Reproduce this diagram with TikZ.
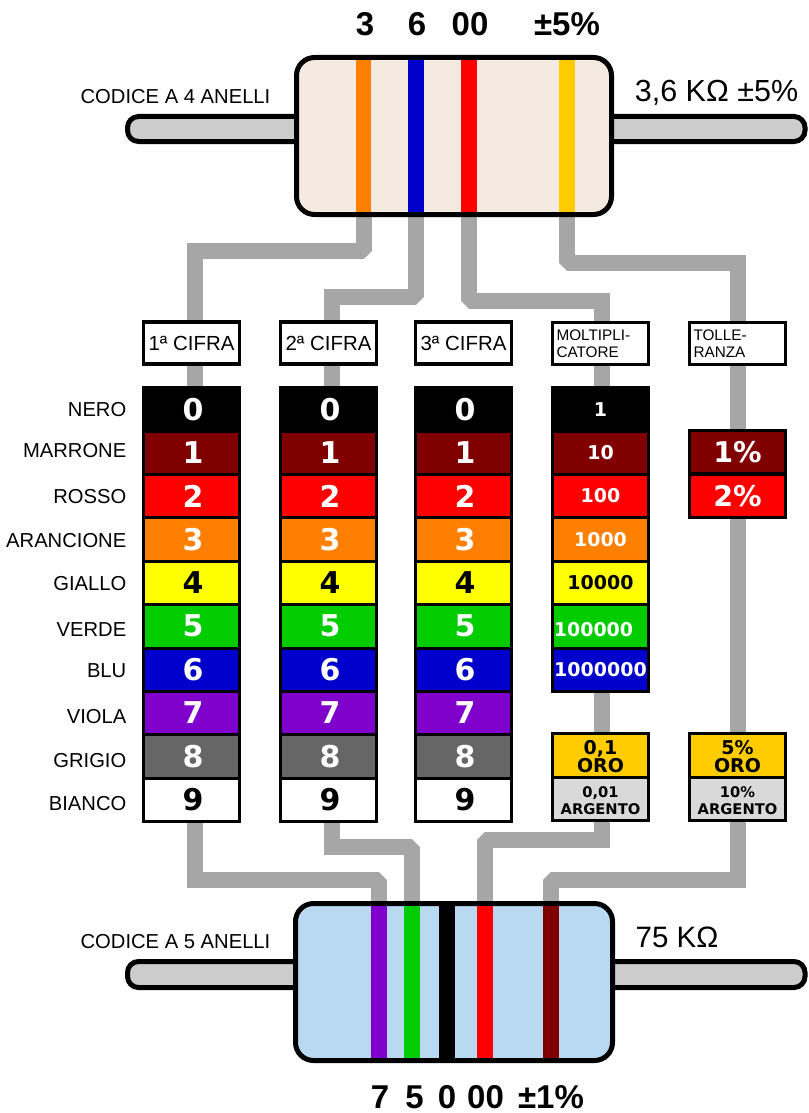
\documentclass[tikz,border=0pt]{standalone}
\usepackage{fontspec}
\setmainfont{Liberation Sans}
\newfontfamily\vbf{DejaVu Sans}
\usetikzlibrary{positioning}
\pgfdeclarelayer{wires}
\pgfsetlayers{wires,main}
\definecolor{wgrey}{HTML}{A6A6A6}
\definecolor{bodyA}{HTML}{F5EADF}
\definecolor{bodyB}{HTML}{B9D9F3}
\definecolor{leadc}{HTML}{CCCCCC}
\definecolor{rk0}{HTML}{000000}
\definecolor{rk1}{HTML}{800000}
\definecolor{rk2}{HTML}{FF0000}
\definecolor{rk3}{HTML}{FF8000}
\definecolor{rk4}{HTML}{FFFF00}
\definecolor{rk5}{HTML}{00CC00}
\definecolor{rk6}{HTML}{0000CC}
\definecolor{rk7}{HTML}{8000CC}
\definecolor{rk8}{HTML}{666666}
\definecolor{rk9}{HTML}{FFFFFF}
\definecolor{gold}{HTML}{FFCC00}
\definecolor{silv}{HTML}{D9D9D9}
\tikzset{
  wire/.style={draw=wgrey,line width=16pt},
  body/.style={draw=black,line width=5pt,rounded corners=18pt,minimum height=157pt,inner sep=0,outer sep=0},
  lead/.style={draw=black,fill=leadc,line width=5pt,rounded corners=11pt,inner sep=0,outer sep=0},
  band/.style={minimum height=152pt,inner sep=0,outer sep=0},
  cell/.style={draw=black,line width=3pt,minimum width=96pt,inner sep=0,outer sep=0,align=center},
  hdr/.style={draw=black,fill=white,line width=3.5pt,minimum width=96pt,minimum height=42pt,inner sep=0,outer sep=0},
  bigd/.style={font=\vbf\bfseries\fontsize{30}{30}\selectfont},
  multd/.style={font=\vbf\bfseries\fontsize{19}{19}\selectfont},
  rowlab/.style={anchor=east,font=\fontsize{20.2}{22}\selectfont,inner sep=0},
  bigtxt/.style={font=\bfseries\fontsize{33}{33}\selectfont,inner sep=0},
  captxt/.style={font=\fontsize{20.2}{22}\selectfont,inner sep=0},
  valtxt/.style={font=\fontsize{29.5}{30}\selectfont,inner sep=0},
}
\begin{document}
\begin{tikzpicture}[x=1pt,y=-1pt]
\useasboundingbox (0,0) rectangle (808,1113);

% top resistor
\node[lead,minimum width=202.5pt,minimum height=25pt] (la) at (228.75,129) {};
\node[lead,minimum width=225pt,minimum height=25pt] (ra) at (692.5,129) {};
\node[body,fill=bodyA,minimum width=315pt] (ra0) at (454,136) {};
\node[band,fill=rk3,minimum width=15.5pt] (a1) at (363.5,136) {};
\node[band,fill=rk6,minimum width=15.5pt] (a2) at (416,136) {};
\node[band,fill=rk2,minimum width=15.5pt] (a3) at (469,136) {};
\node[band,fill=gold,minimum width=15.5pt] (a4) at (567,136) {};

% bottom resistor
\node[lead,minimum width=202.5pt,minimum height=26pt] (lb) at (228.75,974.5) {};
\node[lead,minimum width=225pt,minimum height=26pt] (rb) at (692.5,974.5) {};
\node[body,fill=bodyB,minimum width=317pt] (rb0) at (454,982) {};
\node[band,fill=rk7,minimum width=16pt] (b1) at (379,982) {};
\node[band,fill=rk5,minimum width=16pt] (b2) at (412,982) {};
\node[band,fill=rk0,minimum width=16pt] (b3) at (446.5,982) {};
\node[band,fill=rk2,minimum width=16pt] (b4) at (484.5,982) {};
\node[band,fill=rk1,minimum width=16pt] (b5) at (551,982) {};

% headers
\node[hdr] (h1) at (191.5,343) {\fontsize{20.4}{20}\selectfont 1ª CIFRA};
\node[hdr] (h2) at (328.5,343) {\fontsize{20.4}{20}\selectfont 2ª CIFRA};
\node[hdr] (h3) at (463.5,343) {\fontsize{20.4}{20}\selectfont 3ª CIFRA};
\node[hdr,text width=88pt,align=left,font=\fontsize{15.3}{17}\selectfont] (h4) at (600.5,343.5) {MOLTIPLI-\\CATORE};
\node[hdr,text width=88pt,align=left,font=\fontsize{15.3}{17}\selectfont] (h5) at (737.5,343.5) {TOLLE-\\RANZA};

% colour tables
\foreach \cc/\xx in {1/191.5,2/328.5,3/463.5}{
  \foreach \rr/\yc/\hh/\tc in {0/409.25/43.5/white,1/452.75/43.5/white,2/496/43/white,3/539.25/43.5/white,4/582.75/43.5/black,5/626.25/43.5/white,6/669.5/43/white,7/712.75/43.5/white,8/756.25/43.5/white,9/799.5/43/black}{
    \node[cell,bigd,fill=rk\rr,text=\tc,minimum height=\hh pt] (c\cc r\rr) at (\xx,\yc) {\kern3pt\rr};
  }
}
\foreach \rr/\yc/\hh/\tc/\tx in {0/409.25/43.5/white/1,1/452.75/43.5/white/10,2/496/43/white/100,3/539.25/43.5/white/1000,4/582.75/43.5/black/10000,6/669.5/43/white/1000000}{
  \node[cell,multd,fill=rk\rr,text=\tc,minimum height=\hh pt] (m\rr) at (600.5,\yc) {\tx};
}
\node[cell,multd,fill=rk5,text=white,minimum height=43.5pt] (m5) at (600.5,626.25) {\kern-14pt\raisebox{-10pt}[0pt][0pt]{100000}};
\node[cell,minimum height=44pt,fill=gold,font=\vbf\bfseries\fontsize{19}{18}\selectfont] (m7) at (600.5,755.5) {\rule{0pt}{16pt}0,1\\ORO};
\node[cell,minimum height=43pt,fill=silv,font=\vbf\bfseries\fontsize{14.7}{17}\selectfont] (m8) at (600.5,799) {\rule{0pt}{13.7pt}0,01\\ARGENTO};
\node[cell,minimum height=43pt,fill=rk1,text=white,font=\vbf\bfseries\fontsize{28.5}{28}\selectfont] (t1) at (737.5,452) {1\%};
\node[cell,minimum height=43pt,fill=rk2,text=white,font=\vbf\bfseries\fontsize{28.5}{28}\selectfont] (t2) at (737.5,496) {2\%};
\node[cell,minimum height=44pt,fill=gold,font=\vbf\bfseries\fontsize{19}{18}\selectfont] (t3) at (737.5,755.5) {\rule{0pt}{16pt}5\%\\ORO};
\node[cell,minimum height=43pt,fill=silv,font=\vbf\bfseries\fontsize{14.7}{17}\selectfont] (t4) at (737.5,799) {\rule{0pt}{13.7pt}10\%\\ARGENTO};

% row labels
\foreach \nn/\lab/\yy in {n0/NERO/410,n1/MARRONE/451,n2/ROSSO/497,n3/ARANCIONE/541,n4/GIALLO/584,n5/VERDE/630,n6/BLU/671,n7/VIOLA/717,n8/GRIGIO/761,n9/BIANCO/804}{
  \node[rowlab] (\nn) at (126.5,\yy) {\lab};
}

% texts
\node[bigtxt] (ta1) at (365,24) {3};
\node[bigtxt] (ta2) at (417,24) {6};
\node[bigtxt] (ta3) at (470,24) {00};
\node[bigtxt] (ta4) at (567,24) {±5\%};
\node[bigtxt] (tb1) at (380,1097) {7};
\node[bigtxt] (tb2) at (414.5,1097) {5};
\node[bigtxt] (tb3) at (447,1097) {0};
\node[bigtxt] (tb4) at (485.5,1097) {00};
\node[bigtxt] (tb5) at (551,1097) {±1\%};
\node[captxt] (ca) at (175.5,97) {CODICE A 4 ANELLI};
\node[captxt] (cb) at (175.5,942) {CODICE A 5 ANELLI};
\node[valtxt,font=\fontsize{30.5}{30}\selectfont] (va) at (716.5,93) {3,6 KΩ ±5\%};
\node[valtxt] (vb) at (677,937) {75 KΩ};

% wires
\begin{pgfonlayer}{wires}
  % top resistor to headers
  \draw[wire,line join=bevel] (a1.south) -- (a1.south |- 0,250.5) -- (300,250.5);
  \draw[wire,line join=miter] (300,250.5) -| ([xshift=3pt]h1.north);
  \draw[wire,line join=bevel] (a2.south) -- (a2.south |- 0,297) -- (370,297);
  \draw[wire,line join=miter] (370,297) -| ([xshift=3pt]h2.north);
  \draw[wire,line join=bevel] (a3.south) -- (a3.south |- 0,300.5) -- (540,300.5);
  \draw[wire,line join=miter] (540,300.5) -| ([xshift=1pt]h4.north);
  \draw[wire,line join=bevel] (a4.south) -- (a4.south |- 0,262.5) -- (650,262.5);
  \draw[wire,line join=miter] (650,262.5) -| (h5.north);
  % headers to tables
  \draw[wire] ([xshift=3pt]h1.south) -- ([xshift=3pt]c1r0.north);
  \draw[wire] ([xshift=3pt]h2.south) -- ([xshift=3pt]c2r0.north);
  \draw[wire] ([xshift=1pt]h4.south) -- ([xshift=1pt]m0.north);
  \draw[wire] (h5.south) -- (t1.north);
  \draw[wire] ([xshift=1pt]m6.south) -- ([xshift=1pt]m7.north);
  \draw[wire] (t2.south) -- (t3.north);
  % tables to bottom resistor
  \draw[wire,line join=miter] ([xshift=3pt]c1r9.south) |- (300,879.5);
  \draw[wire,line join=bevel] (300,879.5) -- (b1.north |- 0,879.5) -- (b1.north);
  \draw[wire,line join=miter] ([xshift=3pt]c2r9.south) |- (370,846.5);
  \draw[wire,line join=bevel] (370,846.5) -- (b2.north |- 0,846.5) -- (b2.north);
  \draw[wire,line join=miter] ([xshift=1pt]m8.south) |- (540,839.5);
  \draw[wire,line join=bevel] (540,839.5) -- (b4.north |- 0,839.5) -- (b4.north);
  \draw[wire,line join=miter] (t4.south) |- (650,879.5);
  \draw[wire,line join=bevel] (650,879.5) -- (b5.north |- 0,879.5) -- (b5.north);
\end{pgfonlayer}
\end{tikzpicture}
\end{document}
